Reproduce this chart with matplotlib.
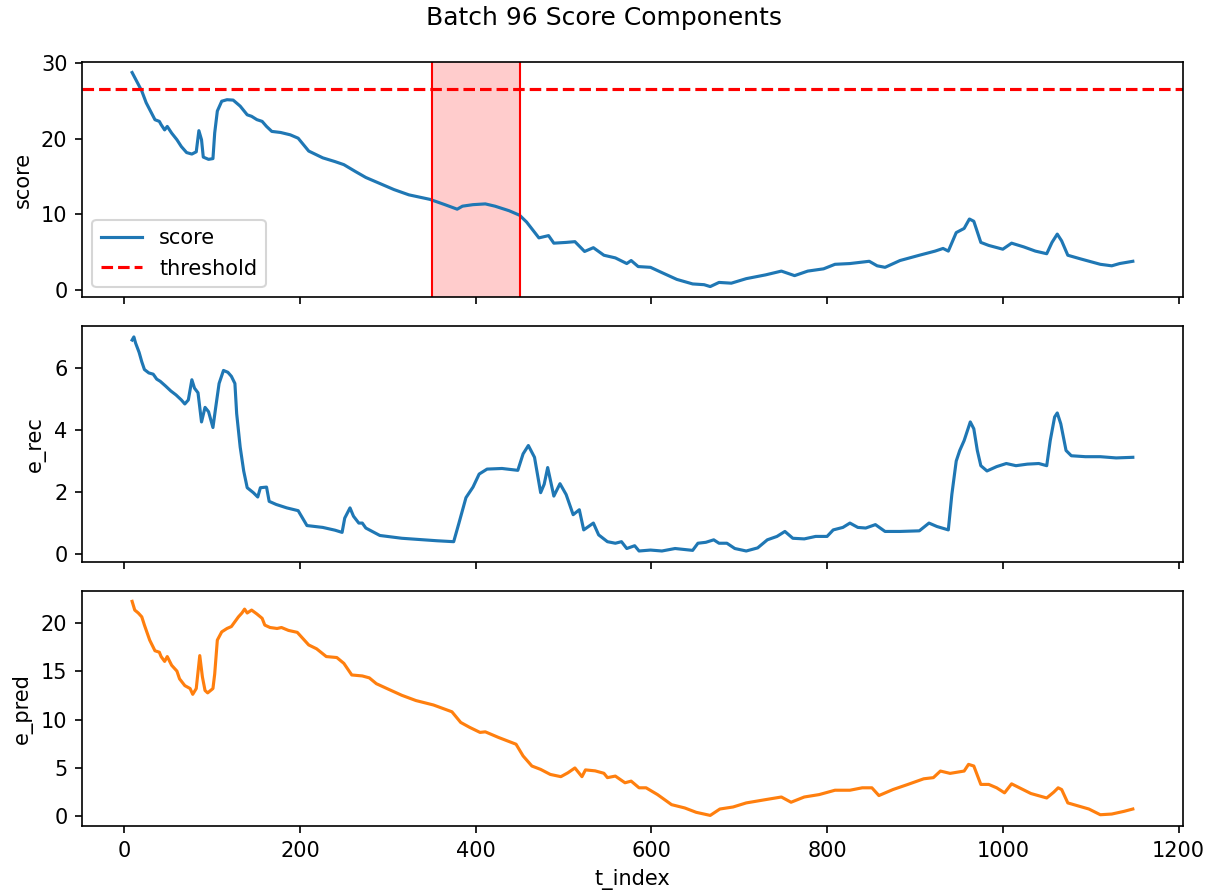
import matplotlib
matplotlib.use("Agg")
import matplotlib.pyplot as plt

# ---- data ----
t_score = [9, 16, 20, 25, 31, 35, 40, 42, 46, 49, 54, 60, 65, 71, 77, 82, 85, 88, 90, 96, 101,
           103, 106, 111, 117, 124, 132, 140, 145, 151, 157, 162, 168, 178, 189, 198,
           210, 226, 240, 250, 263, 275, 291,
           307, 324, 348, 365, 379, 385, 397, 411, 422, 438, 450, 458, 472, 483, 489, 503, 513,
           524, 534, 546, 559, 572, 577, 585, 599, 612, 629, 647, 660, 667, 677, 691, 708, 730,
           748, 763, 778, 796, 809, 826, 848, 857, 866, 883, 905, 923, 932, 938, 947, 956, 962,
           967, 975, 984, 1000, 1010, 1024, 1037, 1050, 1056, 1062, 1067, 1074, 1089, 1111,
           1124, 1133, 1148]
score = [28.8, 27.25, 26.35, 24.8, 23.45, 22.55, 22.33, 21.9, 21.2, 21.66, 20.78, 19.9, 19.0,
         18.2, 18.0, 18.3, 21.1, 19.9, 17.6, 17.3, 17.4, 20.8, 23.7, 25.0, 25.2, 25.15, 24.35,
         23.2, 23.0, 22.56, 22.33, 21.66, 21.0, 20.86, 20.55, 20.1,
         18.4, 17.5, 17.0, 16.6, 15.7, 14.9, 14.1, 13.3, 12.6, 12.0, 11.3, 10.7,
         11.1, 11.3, 11.4, 11.1, 10.5, 9.9, 9.0, 6.9, 7.2, 6.2, 6.3, 6.4, 5.1, 5.6, 4.6, 4.25,
         3.5, 3.9, 3.1, 3.0, 2.3, 1.4, 0.8, 0.7, 0.45, 1.0, 0.9, 1.5, 2.0, 2.5, 1.9, 2.5, 2.8,
         3.4, 3.5, 3.8, 3.2, 3.0, 3.9, 4.6, 5.15, 5.5, 5.15, 7.6, 8.15, 9.4, 9.1, 6.3, 5.9, 5.4,
         6.2, 5.7, 5.15, 4.8, 6.3, 7.4, 6.5, 4.6, 4.1, 3.4, 3.2, 3.5, 3.8]

t_rec = [9, 11, 13, 17, 20, 23, 28, 33, 37, 41, 47, 53, 59, 65, 69, 73, 77, 80, 84, 88, 92, 96,
         101, 104, 108, 113, 118, 122, 126, 128, 132, 136, 140, 147, 152, 155, 162, 165, 173,
         185, 198, 208, 226, 240, 248, 251, 257, 261, 267, 271, 275, 291, 316, 340, 356, 375,
         381, 389, 397, 404, 413, 430, 448, 454, 460, 467, 474, 478, 482, 489, 496, 503, 511,
         518, 523, 534, 540, 550, 559, 566, 572, 581, 586, 599, 612, 627, 647, 653, 662, 671,
         677, 686, 695, 708, 721, 732, 743, 752, 761, 774, 787, 800, 807, 818, 826, 835, 844,
         855, 866, 883, 905, 916, 925, 938, 942, 947, 951, 956, 963, 967, 971, 975, 982, 993,
         1004, 1015, 1028, 1041, 1050, 1054, 1059, 1062, 1066, 1072, 1078, 1094, 1111, 1129,
         1148]
e_rec = [6.9, 7.0, 6.8, 6.5, 6.2, 5.95, 5.84, 5.8, 5.64, 5.57, 5.42, 5.26, 5.13, 4.97, 4.84,
         4.97, 5.62, 5.35, 5.2, 4.26, 4.73, 4.59, 4.08, 4.7, 5.5, 5.92, 5.86, 5.73, 5.5, 4.53,
         3.45, 2.68, 2.14, 1.98, 1.84, 2.14, 2.16, 1.7, 1.6, 1.49, 1.4, 0.92, 0.86, 0.77, 0.7,
         1.16, 1.49, 1.22, 1.0, 1.0, 0.84, 0.6, 0.51, 0.46, 0.43, 0.4, 1.0, 1.82, 2.16, 2.58,
         2.74, 2.76, 2.7, 3.23, 3.5, 3.12, 1.98, 2.25, 2.79, 1.87, 2.27, 1.92, 1.27, 1.43, 0.78,
         1.0, 0.62, 0.4, 0.35, 0.4, 0.18, 0.27, 0.1, 0.13, 0.1, 0.18, 0.12, 0.35, 0.38, 0.46,
         0.35, 0.35, 0.18, 0.1, 0.2, 0.46, 0.57, 0.73, 0.51, 0.49, 0.57, 0.57, 0.78, 0.86, 1.0,
         0.86, 0.84, 0.95, 0.73, 0.73, 0.75, 1.0, 0.89, 0.78, 1.92, 3.0, 3.34, 3.66, 4.26, 4.04,
         3.34, 2.85, 2.68, 2.82, 2.92, 2.85, 2.9, 2.92, 2.85, 3.66, 4.42, 4.55, 4.2, 3.34, 3.17,
         3.14, 3.14, 3.1, 3.12]

t_pred = [9, 12, 16, 20, 23, 29, 35, 40, 42, 46, 49, 54, 60, 63, 69, 75, 78, 82, 86, 89, 92,
          95, 101, 103, 106, 111, 117, 122, 126, 130, 134, 137, 140, 145, 151, 157, 160, 166,
          174, 179, 187, 197, 202, 210, 219,
          230, 242, 250, 259, 271, 279, 287, 299, 316, 332, 352, 373, 383, 393, 405, 411,
          426, 446, 454, 464, 474, 485, 497, 505, 513, 521, 525, 536, 546, 550, 559, 570, 577,
          586, 594, 607, 623, 638, 651, 667, 678, 693, 708, 730, 748, 759, 774, 791, 809, 826,
          840, 851, 859, 875, 892, 910, 921, 929, 940, 956, 961, 967, 975, 984, 993, 1002, 1010,
          1019, 1032, 1050, 1058, 1063, 1067, 1074, 1085, 1098, 1111, 1124, 1138, 1148]
e_pred = [22.2, 21.3, 21.0, 20.6, 19.75, 18.2, 17.1, 16.95, 16.5, 16.0, 16.5, 15.6, 15.0, 14.2,
          13.5, 13.2, 12.6, 13.2, 16.6, 14.4, 13.0, 12.75, 13.2, 14.7, 18.2, 19.05, 19.4, 19.6,
          20.1, 20.6, 21.0, 21.4, 21.0, 21.3, 20.9, 20.45, 19.75, 19.5, 19.4, 19.5, 19.2, 19.0,
          18.5, 17.7, 17.3,
          16.5, 16.4, 15.8,
          14.6, 14.5, 14.3, 13.7, 13.2, 12.5, 11.96, 11.5, 10.8, 9.7, 9.2, 8.67, 8.73, 8.15,
          7.45, 6.24, 5.2, 4.85, 4.33, 4.1, 4.5, 5.0, 4.1, 4.8, 4.7, 4.45, 4.0, 4.16, 3.47, 3.64,
          2.95, 2.95, 2.25, 1.21, 0.87, 0.42, 0.1, 0.76, 0.97, 1.39, 1.73, 2.0, 1.46, 2.0, 2.25,
          2.7, 2.7, 2.95, 2.95, 2.15, 2.77, 3.3, 3.88, 4.0, 4.68, 4.44, 4.68, 5.37, 5.2, 3.3,
          3.3, 2.95, 2.43, 3.36, 2.95, 2.36, 1.9, 2.5, 2.95, 2.77, 1.39, 1.1, 0.76, 0.17, 0.24,
          0.52, 0.76]

threshold = 26.6
span_start, span_end = 350, 450

DPI = 150
fig, axes = plt.subplots(3, 1, sharex=True, figsize=(1207 / DPI, 896 / DPI), dpi=DPI)
fig.subplots_adjust(left=0.068, right=0.980, top=0.931, bottom=0.078, hspace=0.123)

ax0, ax1, ax2 = axes
ax0.plot(t_score, score, color="#1f77b4", lw=1.5, label="score")
ax0.axhline(threshold, color="red", ls="--", lw=1.5, label="threshold")
ax0.axvspan(span_start, span_end, facecolor="red", alpha=0.2, edgecolor="none")
ax0.axvline(span_start, color="red", lw=1)
ax0.axvline(span_end, color="red", lw=1)
ax0.set_ylabel("score")
ax0.legend(loc="lower left")

ax1.plot(t_rec, e_rec, color="#1f77b4", lw=1.5)
ax1.set_ylabel("e_rec")

ax2.plot(t_pred, e_pred, color="#ff7f0e", lw=1.5)
ax2.set_ylabel("e_pred")
ax2.set_xlabel("t_index")

fig.suptitle("Batch 96 Score Components", fontsize=12, y=0.993)

fig.savefig("out.png", dpi=DPI)
